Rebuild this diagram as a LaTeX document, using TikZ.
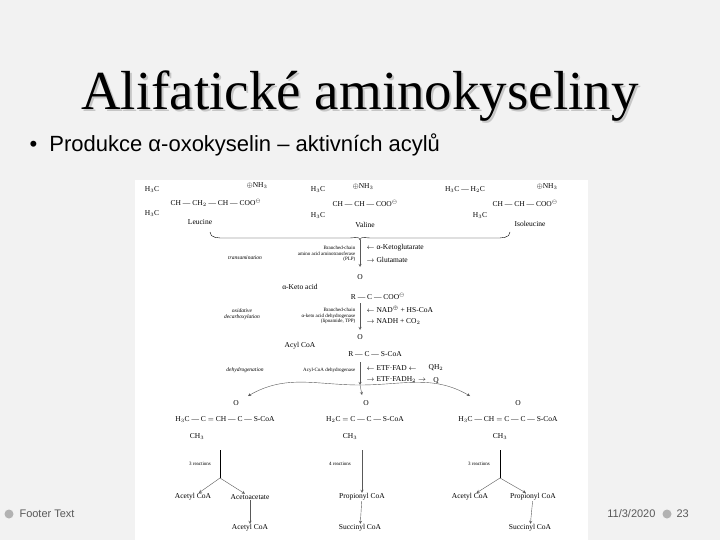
\documentclass[tikz,border=0pt]{standalone}
\usepackage{fontspec}
\setmainfont{Liberation Serif}
\newfontfamily\slidesans{Liberation Sans}
\usetikzlibrary{positioning}
\tikzset{
  chem/.style={font=\fontsize{7.5}{8.5}\selectfont, inner sep=0.5pt},
  tiny/.style={font=\fontsize{5}{5.5}\selectfont, inner sep=0.5pt, align=right},
  note/.style={font=\itshape\fontsize{5.5}{6}\selectfont, inner sep=0.5pt},
  flow/.style={-stealth, thin, gray!70!black},
}
\begin{document}
\begin{tikzpicture}[x=1pt,y=-1pt]
    % Slide background
    \fill[gray!10] (0,0) rectangle (720,540);
    \fill[white] (135,180) rectangle (588,540);
    \useasboundingbox (0,0) rectangle (720,540);
    
    % Title and bullet
    \node[gray!45, font=\fontsize{55}{58}\selectfont] at (362,98) {Alifatické aminokyseliny};
    \node (title) [font=\fontsize{55}{58}\selectfont] at (360,96) {Alifatické aminokyseliny};
    \node (bullet) [anchor=west, font=\slidesans\fontsize{22}{24}\selectfont] at (26,145) {•\ \ Produkce α-oxokyselin – aktivních acylů};
    
    % Amino acids
    \node[chem] at (152,190) {H$_3$C};
    \node[chem] at (152,214) {H$_3$C};
    \node[chem, anchor=west] at (170,203) {CH --- CH$_2$ --- CH --- COO$^{\ominus}$};
    \node[chem] at (257,186) {$\oplus$NH$_3$};
    \node (leu) [chem] at (200,222) {Leucine};
    
    \node[chem] at (318,190) {H$_3$C};
    \node[chem] at (318,216) {H$_3$C};
    \node[chem, anchor=west] at (332,203) {CH --- CH --- COO$^{\ominus}$};
    \node[chem] at (363,187) {$\oplus$NH$_3$};
    \node (val) [chem] at (365,225) {Valine};
    
    \node[chem] at (465,190) {H$_3$C --- H$_2$C};
    \node[chem] at (480,216) {H$_3$C};
    \node[chem, anchor=west] at (492,203) {CH --- CH --- COO$^{\ominus}$};
    \node[chem] at (547,187) {$\oplus$NH$_3$};
    \node (ile) [chem] at (530,224) {Isoleucine};
    
    % Brace joining the three
    \coordinate (top) at (360,240);
    \draw[thin] (210,232) to[out=-90,in=180] (225,238) -- (350,238) to[out=0,in=90] (top);
    \draw[thin] (510,232) to[out=-90,in=0] (495,238) -- (370,238) to[out=180,in=90] (top);
    
    % Transamination
    \coordinate (t1) at (360,267);
    \draw[flow] (top) -- (t1);
    \node[tiny, anchor=east] at (356,254) {Branched-chain\\amino acid aminotransferase\\(PLP)};
    \node[note] at (245,258) {transamination};
    \node[chem, anchor=west] at (366,248) {$\leftarrow$ α-Ketoglutarate};
    \node[chem, anchor=west] at (366,260) {$\to$ Glutamate};
    
    \node[chem] at (360,277) {O};
    \node (keto) [chem] at (300,287) {α-Keto acid};
    \node (ketoR) [chem] at (378,296) {R --- C --- COO$^{\ominus}$};
    
    % Oxidative decarboxylation
    \coordinate (t2) at (360,330);
    \draw[flow] (360,303) -- (t2);
    \node[tiny, anchor=east] at (356,316) {Branched-chain\\α-keto acid dehydrogenase\\(lipoamide, TPP)};
    \node[note, align=center] at (242,314) {oxidative\\decarboxylation};
    \node[chem, anchor=west] at (366,309) {$\leftarrow$ NAD$^{\oplus}$ + HS-CoA};
    \node[chem, anchor=west] at (366,322) {$\to$ NADH + CO$_2$};
    
    \node[chem] at (360,337) {O};
    \node (acyl) [chem] at (300,346) {Acyl CoA};
    \node (acylR) [chem] at (375,354) {R --- C --- S-CoA};
    
    % Dehydrogenation
    \coordinate (t3) at (360,385);
    \draw[flow] (360,362) -- (t3);
    \node[tiny, anchor=east] at (356,370) {Acyl-CoA dehydrogenase};
    \node[note] at (245,370) {dehydrogenation};
    \node[chem, anchor=west] at (366,368) {$\leftarrow$ ETF·FAD $\leftarrow$};
    \node[chem, anchor=west] at (366,380) {$\to$ ETF·FADH$_2$ $\to$};
    \node[chem] at (436,368) {QH$_2$};
    \node[chem] at (436,381) {Q};
    
    \draw[flow] (t3) to[out=180,in=30] (248,396);
    \draw[flow] (t3) -- (362,395);
    \draw[flow] (t3) to[out=0,in=150] (470,396);
    
    % Three acyl-CoAs
    \node[chem] at (236,403) {O};
    \node (lA) [chem] at (225,420) {H$_3$C --- C $=$ CH --- C --- S-CoA};
    \node[chem] at (197,437) {CH$_3$};
    \node[chem] at (366,403) {O};
    \node (mA) [chem] at (365,420) {H$_2$C $=$ C --- C --- S-CoA};
    \node[chem] at (350,437) {CH$_3$};
    \node[chem] at (518,403) {O};
    \node (rA) [chem] at (508,420) {H$_3$C --- CH $=$ C --- C --- S-CoA};
    \node[chem] at (500,437) {CH$_3$};
    
    % Left branch
    \coordinate (lsplit) at (220,478);
    \draw[thin] (220,450) -- (lsplit);
    \node[tiny] at (200,464) {3 reactions};
    \node (lacetyl) [chem] at (193,497) {Acetyl CoA};
    \node (lacac) [chem] at (250,497) {Acetoacetate};
    \draw[flow] (lsplit) -- (lacetyl);
    \draw[flow] (lsplit) -- (lacac);
    \node (lacetyl2) [chem] at (250,528) {Acetyl CoA};
    \draw[flow] (lacac) -- (lacetyl2);
    
    % Middle branch
    \node[tiny] at (340,464) {4 reactions};
    \node (mprop) [chem] at (362,497) {Propionyl CoA};
    \draw[flow] (362,450) -- (mprop);
    \node (msucc) [chem] at (360,528) {Succinyl CoA};
    \draw[flow] (mprop) -- (msucc);
    
    % Right branch
    \coordinate (rsplit) at (500,478);
    \draw[thin] (500,450) -- (rsplit);
    \node[tiny] at (479,464) {3 reactions};
    \node (racetyl) [chem] at (470,497) {Acetyl CoA};
    \node (rprop) [chem] at (533,497) {Propionyl CoA};
    \draw[flow] (rsplit) -- (racetyl);
    \draw[flow] (rsplit) -- (rprop);
    \node (rsucc) [chem] at (530,528) {Succinyl CoA};
    \draw[flow] (rprop) -- (rsucc);
    
    % Footer
    \fill[gray!60] (9,514) circle (4.5);
    \node (footer) [anchor=west, gray!70!black, font=\slidesans\fontsize{11}{12}\selectfont] at (16,514) {Footer Text};
    \node (date) [anchor=east, gray!70!black, font=\slidesans\fontsize{11}{12}\selectfont] at (659,514) {11/3/2020};
    \fill[gray!60] (667,514) circle (4.5);
    \node (page) [anchor=west, gray!70!black, font=\slidesans\fontsize{11}{12}\selectfont] at (673,514) {23};
\end{tikzpicture}
\end{document}
